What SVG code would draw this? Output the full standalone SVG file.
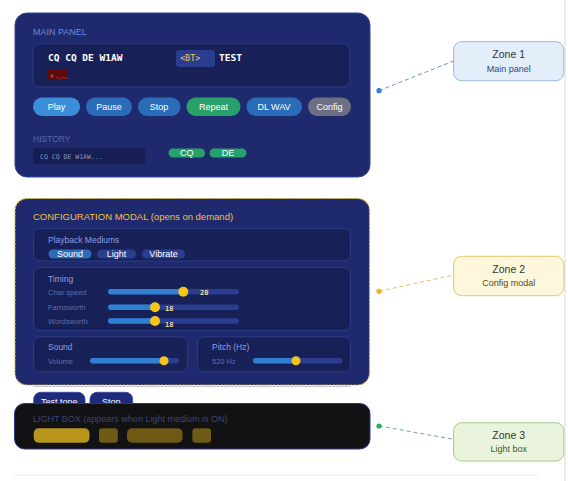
<svg xmlns="http://www.w3.org/2000/svg" width="568" height="481" viewBox="0 0 568 481">
<style>
.sans{font-family:"Liberation Sans",Arial,sans-serif}
.mono{font-family:"DejaVu Sans Mono","Liberation Mono",monospace}
.panel{fill:#1f2a6e;stroke:#34449a;stroke-width:1}
.sub{fill:#182157;stroke:#2a3a82;stroke-width:1}
.btn{font-family:"Liberation Sans",Arial,sans-serif;font-size:9px;fill:#fff;text-anchor:middle}
.lbl{font-family:"Liberation Sans",Arial,sans-serif;font-size:8.5px;fill:#8a9ee0}
.dim{font-family:"Liberation Sans",Arial,sans-serif;font-size:7.5px;fill:#5a6cb2}
.track{fill:#2b3d8f}
.fill{fill:#2f80d2}
.thumb{fill:#f5c518}
.val{font-family:"DejaVu Sans Mono","Liberation Mono",monospace;font-size:7px;font-weight:bold;fill:#e6d6a0}
.zt{font-family:"Liberation Sans",Arial,sans-serif;font-size:10.5px;fill:#333;text-anchor:middle}
.zs{font-family:"Liberation Sans",Arial,sans-serif;font-size:9px;text-anchor:middle}
</style>
<rect width="568" height="481" fill="#ffffff"/>
<line x1="565" y1="0" x2="565" y2="481" stroke="#e6e6e6" stroke-width="1.5"/>
<line x1="14" y1="475" x2="538" y2="475" stroke="#e8e8e8" stroke-width="1"/>

<g id="main-panel">
<rect x="15" y="13" width="355" height="164" rx="12" class="panel"/>
<text x="33" y="35" class="sans" font-size="9" fill="#6f86d6">MAIN PANEL</text>
<rect x="33" y="44" width="317" height="43" rx="7" class="sub"/>
<text x="48" y="61" class="mono" font-size="9.5" font-weight="bold" fill="#ffffff">CQ CQ DE W1AW</text>
<rect x="176" y="50" width="39" height="17" rx="3" fill="#2b3d8f"/>
<text x="180" y="61" class="mono" font-size="8.5" fill="#e8c85a">&lt;BT&gt;</text>
<text x="219" y="61" class="mono" font-size="9.5" font-weight="bold" fill="#ffffff">TEST</text>
<rect x="48" y="70" width="20" height="10" fill="#5e0a0a"/>
<text x="50" y="78" class="mono" font-size="6" fill="#e04040">#</text>
<path d="M56 78 q1.5 -1.5 3 0 t3 0 t3 0 t3 0" fill="none" stroke="#c03030" stroke-width="0.7"/>
<rect x="33" y="97.5" width="47" height="18.5" rx="9" fill="#3a8fd8"/>
<text x="56.5" y="110" class="btn">Play</text>
<rect x="86" y="97.5" width="46" height="18.5" rx="9" fill="#2b6cb8"/>
<text x="109" y="110" class="btn">Pause</text>
<rect x="138" y="97.5" width="42.5" height="18.5" rx="9" fill="#2b6cb8"/>
<text x="159" y="110" class="btn">Stop</text>
<rect x="186.5" y="97.5" width="54" height="18.5" rx="9" fill="#27a06a"/>
<text x="213.5" y="110" class="btn">Repeat</text>
<rect x="246.5" y="97.5" width="55.5" height="18.5" rx="9" fill="#2b6cb8"/>
<text x="274" y="110" class="btn">DL WAV</text>
<rect x="308" y="97.5" width="43" height="18.5" rx="9" fill="#6b7082"/>
<text x="329.5" y="110" class="btn">Config</text>
<text x="33" y="142" class="sans" font-size="8.5" fill="#5366b6">HISTORY</text>
<rect x="33" y="148" width="112" height="16" rx="2" fill="#151d52"/>
<text x="40" y="159" class="mono" font-size="6.5" fill="#8c95c0">CQ CQ DE W1AW...</text>
<rect x="168.5" y="148.5" width="36.5" height="9" rx="4.5" fill="#27a06a"/>
<text x="186.7" y="155.5" class="btn" font-size="6.5">CQ</text>
<rect x="209.5" y="148.5" width="37" height="9" rx="4.5" fill="#27a06a"/>
<text x="228" y="155.5" class="btn" font-size="6.5">DE</text>
</g>

<g id="config-modal">
<rect x="15" y="198.5" width="354.5" height="186.5" rx="12" fill="#1f2a6e" stroke="#d8b440" stroke-width="1.2" stroke-dasharray="2 1.5"/>
<text x="33" y="220" class="sans" font-size="9.5" fill="#f0c040">CONFIGURATION MODAL (opens on demand)</text>
<rect x="33.5" y="228.5" width="317" height="32.5" rx="7" class="sub"/>
<text x="48" y="243" class="lbl">Playback Mediums</text>
<rect x="48.5" y="249.5" width="43" height="9" rx="4.5" fill="#2b6cb8"/>
<text x="70" y="256.5" class="btn" font-size="6.5">Sound</text>
<rect x="97" y="249.5" width="39" height="9" rx="4.5" fill="#2b3d8f"/>
<text x="116.5" y="256.5" class="btn" font-size="6.5" fill="#aab6e6">Light</text>
<rect x="142" y="249.5" width="43" height="9" rx="4.5" fill="#2b3d8f"/>
<text x="163.5" y="256.5" class="btn" font-size="6.5" fill="#aab6e6">Vibrate</text>

<rect x="33.5" y="267.5" width="317" height="63" rx="7" class="sub"/>
<text x="48" y="282" class="lbl">Timing</text>
<text x="48" y="294.5" class="dim">Char speed</text>
<rect x="108" y="289" width="131" height="5.5" rx="2.75" class="track"/>
<rect x="108" y="289" width="75" height="5.5" rx="2.75" class="fill"/>
<circle cx="183.3" cy="291.7" r="5" class="thumb"/>
<text x="200" y="295" class="val">20</text>
<text x="48" y="310" class="dim">Farnsworth</text>
<rect x="108" y="304.5" width="131" height="5.5" rx="2.75" class="track"/>
<rect x="108" y="304.5" width="47" height="5.5" rx="2.75" class="fill"/>
<circle cx="155" cy="307.3" r="5" class="thumb"/>
<text x="165" y="310.5" class="val">18</text>
<text x="48" y="323.5" class="dim">Wordsworth</text>
<rect x="108" y="318.3" width="131" height="5.5" rx="2.75" class="track"/>
<rect x="108" y="318.3" width="47" height="5.5" rx="2.75" class="fill"/>
<circle cx="155" cy="321" r="5" class="thumb"/>
<text x="165" y="327" class="val">18</text>

<rect x="33.5" y="336.7" width="154" height="35" rx="7" class="sub"/>
<text x="48" y="350" class="lbl">Sound</text>
<text x="48" y="363.5" class="dim">Volume</text>
<rect x="90" y="358" width="89" height="5.5" rx="2.75" class="track"/>
<rect x="90" y="358" width="74" height="5.5" rx="2.75" class="fill"/>
<circle cx="164" cy="360.7" r="4.5" class="thumb"/>
<rect x="197.5" y="336.7" width="153" height="35" rx="7" class="sub"/>
<text x="212" y="350" class="lbl">Pitch (Hz)</text>
<text x="212" y="363.5" class="dim">520 Hz</text>
<rect x="253" y="358" width="89.5" height="5.5" rx="2.75" class="track"/>
<rect x="253" y="358" width="43" height="5.5" rx="2.75" class="fill"/>
<circle cx="296" cy="360.7" r="4.5" class="thumb"/>
<line x1="33.5" y1="386.5" x2="350.5" y2="386.5" stroke="#b8b8c0" stroke-width="0.8"/>
<rect x="33.7" y="392.3" width="51.3" height="18" rx="7" fill="#1e2a7a" stroke="#34449a" stroke-width="0.8"/>
<text x="59.3" y="405" class="btn" font-size="7" fill="#d8def5">Test tone</text>
<rect x="90" y="392.3" width="42.6" height="18" rx="7" fill="#1e2a7a" stroke="#34449a" stroke-width="0.8"/>
<text x="111.3" y="405" class="btn" font-size="7" fill="#d8def5">Stop</text>
</g>

<g id="light-box">
<rect x="14.5" y="403.5" width="355.5" height="45.5" rx="10" fill="#121214" stroke="#2a3a80" stroke-width="1"/>
<text x="33" y="421.5" class="sans" font-size="9" fill="#3c4570">LIGHT BOX (appears when Light medium is ON)</text>
<rect x="33.7" y="428.3" width="55.8" height="14.4" rx="5" fill="#b8961c"/>
<rect x="99" y="428.3" width="18.8" height="14.4" rx="3" fill="#6e5a14"/>
<rect x="127" y="428.3" width="55.6" height="14.4" rx="5" fill="#6e5a14"/>
<rect x="192.4" y="428.3" width="18.6" height="14.4" rx="3" fill="#6e5a14"/>
</g>

<g id="zone-1">
<rect x="453.6" y="41.7" width="110.2" height="39" rx="8" fill="#e3eefa" stroke="#9ab8dc" stroke-width="1"/>
<text x="508.7" y="58" class="zt">Zone 1</text>
<text x="508.7" y="71.5" class="zs" fill="#2a4a7a">Main panel</text>
</g>
<g id="zone-2">
<rect x="453.6" y="256.3" width="110.2" height="39.4" rx="8" fill="#fdf7dc" stroke="#e0c870" stroke-width="1"/>
<text x="508.7" y="272.5" class="zt">Zone 2</text>
<text x="508.7" y="286" class="zs" fill="#5a4a1a">Config modal</text>
</g>
<g id="zone-3">
<rect x="453.6" y="422.7" width="110.2" height="38.3" rx="8" fill="#eaf3dc" stroke="#a8c890" stroke-width="1"/>
<text x="508.7" y="438.5" class="zt">Zone 3</text>
<text x="508.7" y="452" class="zs" fill="#3a5a2a">Light box</text>
</g>

<g id="connectors">
<line x1="379" y1="90.7" x2="453.6" y2="61" stroke="#6a90c4" stroke-width="1" stroke-dasharray="4 3"/>
<circle cx="379" cy="90.7" r="2.6" fill="#3a7fd0"/>
<line x1="379" y1="291.3" x2="453.6" y2="275" stroke="#e0c060" stroke-width="1" stroke-dasharray="4 3"/>
<circle cx="379" cy="291.3" r="2.6" fill="#e8b820"/>
<line x1="379" y1="426" x2="453.6" y2="439.3" stroke="#70a890" stroke-width="1" stroke-dasharray="4 3"/>
<circle cx="379" cy="426" r="2.6" fill="#2ab060"/>
</g>
</svg>
